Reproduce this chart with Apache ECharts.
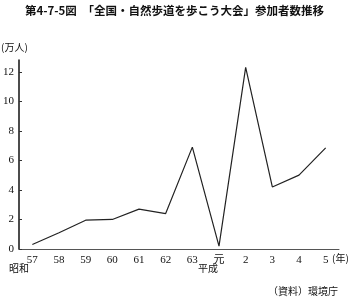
<!DOCTYPE html>
<html><head><meta charset="utf-8">
<script src="https://cdn.jsdelivr.net/npm/echarts@6/dist/echarts.min.js"></script>
<style>html,body{margin:0;padding:0;background:#fff}#c{width:353px;height:299px}</style>
</head><body><div id="c"></div>
<script>
const categories = ['57','58','59','60','61','62','63','元','2','3','4','5'];
const participants = [0.3, 1.1, 1.95, 2.0, 2.7, 2.4, 6.9, 0.2, 12.3, 4.2, 5.0, 6.85];
const yTicks = [0, 2, 4, 6, 8, 10, 12];
const FONT = '"Liberation Serif","Noto Sans CJK JP",serif';
const chart = echarts.init(document.getElementById('c'), null, {renderer:'canvas'});
chart.setOption({
  animation: false,
  backgroundColor: '#fff',
  grid: {left: 17, right: 14, top: 60, bottom: 50, containLabel: false},
  xAxis: {
    type: 'category', data: categories, boundaryGap: true,
    axisLine: {lineStyle: {color: '#555', width: 1}},
    axisTick: {inside: true, alignWithLabel: true, length: 3, lineStyle: {color: '#333'}},
    axisLabel: {color: '#111', fontSize: 11, fontFamily: FONT, margin: 6}
  },
  yAxis: {
    type: 'value', min: 0, max: 12.8,
    splitLine: {show: false},
    axisLine: {show: true, lineStyle: {color: '#111', width: 1.5}},
    axisTick: {show: true, inside: true, length: 3, customValues: yTicks, lineStyle: {color: '#333'}},
    axisLabel: {color: '#111', fontSize: 11, fontFamily: FONT, margin: 5, customValues: yTicks}
  },
  series: [{
    type: 'line', data: participants, symbol: 'none',
    lineStyle: {color: '#222', width: 1.2}
  }],
  graphic: [
    {type: 'text', left: 25, top: 5, style: {text: '第4-7-5図　「全国・自然歩道を歩こう大会」参加者数推移', font: 'bold 11.5px "Noto Sans CJK JP"', fill: '#111'}},
    {type: 'text', left: 1, top: 42, style: {text: '(万人)', font: '10px "Noto Sans CJK JP"', fill: '#111'}},
    {type: 'text', left: 332, top: 253, style: {text: '(年)', font: '10px "Noto Sans CJK JP"', fill: '#111'}},
    {type: 'text', left: 9, top: 263, style: {text: '昭和', font: '10px "Noto Sans CJK JP"', fill: '#111'}},
    {type: 'text', left: 198, top: 263, style: {text: '平成', font: '10px "Noto Sans CJK JP"', fill: '#111'}},
    {type: 'text', left: 268, top: 286, style: {text: '（資料）環境庁', font: '10px "Noto Sans CJK JP"', fill: '#111'}}
  ]
});
</script></body></html>
